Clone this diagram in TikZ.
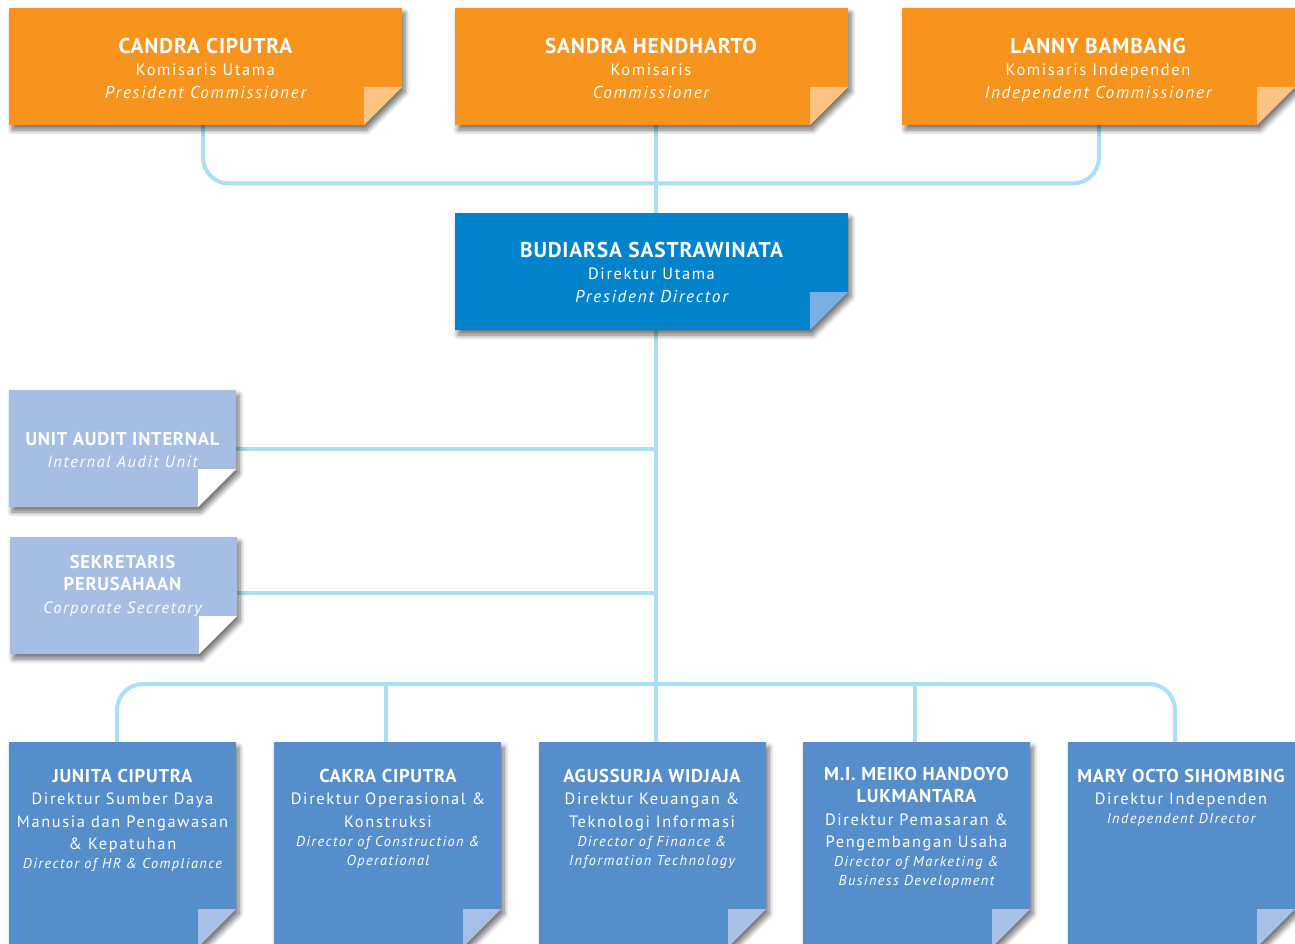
\documentclass[tikz,border=0pt]{standalone}
\usepackage{fontspec}
\setmainfont{PT Sans}[LetterSpace=10, BoldFeatures={LetterSpace=4}, ItalicFeatures={LetterSpace=10}]
\usetikzlibrary{shadows.blur,calc,fit}
\definecolor{orng}{HTML}{F7941E}
\definecolor{orngfold}{HTML}{FBC382}
\definecolor{pdblue}{HTML}{0083CA}
\definecolor{pdfold}{HTML}{79AFE1}
\definecolor{lav}{HTML}{A6BEE3}
\definecolor{dirblue}{HTML}{558ECB}
\definecolor{dirfold}{HTML}{A8C0E6}
\definecolor{conn}{HTML}{AADFF7}
\pgfdeclarelayer{background}
\pgfsetlayers{background,main}
\newcommand\bigname{\fontsize{21.4}{22.5}\selectfont\bfseries}
\newcommand\smallname{\fontsize{18.6}{22.5}\selectfont\bfseries}
\newcommand\itt{\fontsize{16.4}{22.5}\selectfont\itshape}
\newcommand\bigit{\fontsize{17.2}{22.5}\selectfont\itshape}
\newcommand\smit{\fontsize{14.3}{22.5}\selectfont\itshape}
\tikzset{
  connline/.style={draw=conn, line width=4pt},
  cardtext/.style={text=white, align=center, inner sep=0pt, anchor=north,
    font=\fontsize{16.4}{22.5}\selectfont},
  boxshadow/.style={blur shadow={shadow xshift=3pt, shadow yshift=-5pt,
    shadow blur radius=5pt, shadow blur steps=8, shadow opacity=55}},
  framebox/.style={inner sep=0pt, outer sep=0pt}
}
\newcommand\foldcard[7]{%
  \node[framebox, fit={(#2,#3) (#4,#5)}] (#1) {};
  \fill[#6, boxshadow] (#1.north west) -- (#1.north east) -- ([yshift=38pt]#1.south east)
     -- ([xshift=-38pt]#1.south east) -- (#1.south west) -- cycle;
  \fill[#7] ([xshift=-38pt]#1.south east) -- ([xshift=-38pt,yshift=38pt]#1.south east)
     -- ([yshift=38pt]#1.south east) -- cycle;
}
\begin{document}
\begin{tikzpicture}[x=1pt,y=-1pt]
\useasboundingbox (0,0) rectangle (1295,944);
% commissioners
\foldcard{c1}{9}{8}{402}{125}{orng}{orngfold}
\foldcard{c2}{455}{8}{848}{125}{orng}{orngfold}
\foldcard{c3}{902}{8}{1295}{125}{orng}{orngfold}
% president director
\foldcard{pd}{455}{213}{848}{330}{pdblue}{pdfold}
% staff units
\foldcard{ua}{9}{390}{236}{507}{lav}{white}
\foldcard{sk}{10}{537}{237}{654}{lav}{white}
% directors
\foldcard{b1}{9}{742}{236}{947}{dirblue}{dirfold}
\foldcard{b2}{274}{742}{501}{947}{dirblue}{dirfold}
\foldcard{b3}{539}{742}{766}{947}{dirblue}{dirfold}
\foldcard{b4}{803}{742}{1030}{947}{dirblue}{dirfold}
\foldcard{b5}{1068}{742}{1295}{947}{dirblue}{dirfold}

% texts
\node[cardtext] (c1t) at (205.5,38) {{\bigname CANDRA CIPUTRA}\\Komisaris Utama\\{\bigit President Commissioner}};
\node[cardtext] (c2t) at (651,38) {{\bigname SANDRA HENDHARTO}\\Komisaris\\{\bigit Commissioner}};
\node[cardtext] (c3t) at (1098,38) {{\bigname LANNY BAMBANG}\\Komisaris Independen\\{\bigit Independent Commissioner}};
\node[cardtext] (pdt) at (651.5,242) {{\bigname BUDIARSA SASTRAWINATA}\\Direktur Utama\\{\bigit President Director}};
\node[cardtext] (uat) at (122.5,432) {{\smallname UNIT AUDIT INTERNAL}\\{\itt Internal Audit Unit}};
\node[cardtext] (skt) at (122.5,555) {{\smallname SEKRETARIS}\\{\smallname PERUSAHAAN}\\{\itt Corporate Secretary}};
\node[cardtext] (b1t) at (122.5,769) {{\smallname JUNITA CIPUTRA}\\Direktur Sumber Daya\\Manusia dan Pengawasan\\\& Kepatuhan\\[-4pt]{\smit Director of HR \& Compliance}};
\node[cardtext] (b2t) at (388,769) {{\smallname CAKRA CIPUTRA}\\Direktur Operasional \&\\Konstruksi\\[-3.5pt]{\smit Director of Construction \&}\\[-3.5pt]{\smit Operational}};
\node[cardtext] (b3t) at (652,769) {{\smallname AGUSSURJA WIDJAJA}\\Direktur Keuangan \&\\Teknologi Informasi\\[-3.5pt]{\smit Director of Finance \&}\\[-3.5pt]{\smit Information Technology}};
\node[cardtext] (b4t) at (916.5,767) {{\smallname M.I. MEIKO HANDOYO}\\{\smallname LUKMANTARA}\\Direktur Pemasaran \&\\Pengembangan Usaha\\[-3.5pt]{\smit Director of Marketing \&}\\[-3.5pt]{\smit Business Development}};
\node[cardtext] (b5t) at (1181,769) {{\smallname MARY OCTO SIHOMBING}\\Direktur Independen\\[-3.5pt]{\smit Independent DIrector}};

% connectors
\begin{pgfonlayer}{background}
\coordinate (spine) at ([xshift=4.5pt]pd.south);
\draw[connline, rounded corners=26pt] ([xshift=-2.5pt]c1.south) -- ++(0,58.5) -| ([xshift=0.5pt]c3.south);
\draw[connline] ([xshift=4.5pt]c2.south) -- ([xshift=4.5pt]pd.north);
\draw[connline] (spine) -- ([xshift=3.5pt]b3.north);
\draw[connline] (ua.east) -- (ua.east -| spine);
\draw[connline] ([yshift=2.5pt]sk.east) -- ([yshift=2.5pt]sk.east -| spine);
\draw[connline, rounded corners=26pt] ([xshift=-5.5pt]b1.north) -- ++(0,-58) -| ([xshift=-6.5pt]b5.north);
\draw[connline] ([xshift=-1.5pt]b2.north) -- ++(0,-58);
\draw[connline] ([xshift=-1.5pt]b4.north) -- ++(0,-58);
\end{pgfonlayer}
\end{tikzpicture}
\end{document}
